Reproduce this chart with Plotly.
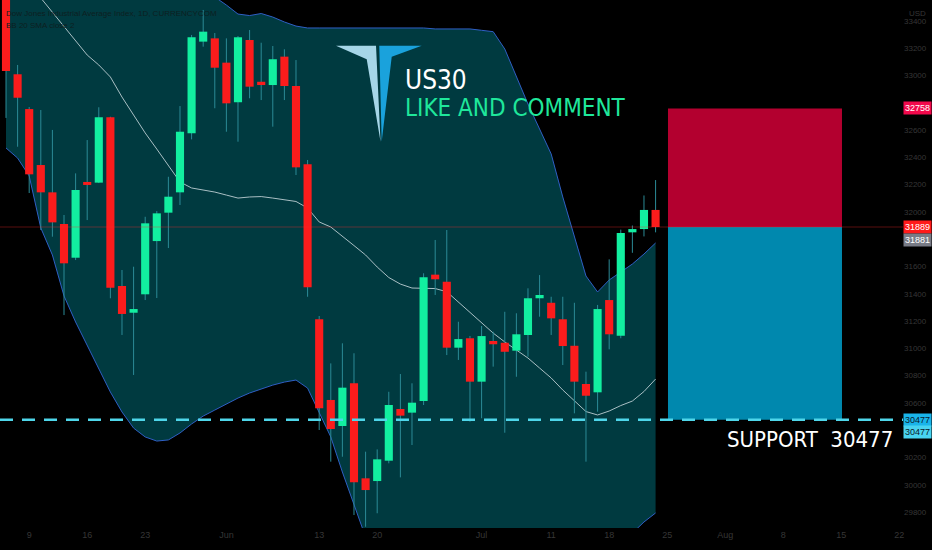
import plotly.graph_objects as go

# ---------------- data ----------------
bar_index = list(range(57))
opens = [34000, 33008, 32753, 32343, 32143, 31911, 31664, 32214, 32214, 32693,
         31457, 31261, 31396, 31786, 31994, 32143, 32575, 33247, 33271, 33093,
         32803, 33259, 32953, 32929, 33137, 32922, 32348, 31213, 30622, 30431,
         30744, 30048, 30028, 30177, 30556, 30529, 30614, 31540, 31488, 31005,
         31074, 30756, 31054, 31041, 30983, 31098, 31367, 31334, 31213, 31019,
         30739, 30678, 31354, 31093, 31850, 31874, 32014]
highs = [34150, 33076, 32768, 32746, 32600, 31977, 32282, 32526, 32766, 32697,
         31574, 31598, 31964, 32006, 32257, 32775, 33296, 33479, 33310, 33271,
         33288, 33332, 33239, 33215, 33191, 33112, 32380, 31237, 30890, 31037,
         30964, 30243, 30260, 30682, 30812, 30744, 31550, 31794, 31867, 31195,
         31091, 31164, 31122, 31268, 31257, 31440, 31537, 31378, 31378, 31334,
         30829, 31318, 31652, 31870, 31900, 32120, 32233]
lows = [32688, 32477, 32138, 31867, 31818, 31244, 31647, 31940, 32211, 31367,
        31098, 30805, 31354, 31369, 31735, 32050, 32531, 33210, 32759, 32587,
        32514, 32832, 32819, 32624, 32819, 32270, 31378, 30402, 30170, 30206,
        29779, 29693, 29792, 30158, 30055, 30292, 30585, 31391, 30951, 30915,
        30463, 30488, 30866, 30382, 30792, 30939, 31232, 31098, 30878, 30524,
        30170, 30536, 30993, 31074, 31700, 31820, 31850]
closes = [33032, 32836, 32275, 32143, 31923, 31623, 32160, 32197, 32693, 31444,
          31252, 31288, 31916, 31989, 32111, 32587, 33279, 33320, 33056, 32795,
          33279, 32917, 32929, 33118, 32922, 32326, 31447, 30561, 30409, 30712,
          30019, 29962, 30187, 30585, 30507, 30602, 31521, 31506, 31005, 31068,
          30756, 31090, 31030, 30975, 31103, 31367, 31391, 31220, 31017, 30756,
          30653, 31288, 31103, 31845, 31874, 32014, 31889]

bb_upper = [35000, 34950, 34900, 34850, 34800, 34750, 34700, 34600, 34500, 34400,
            34300, 34200, 34100, 34000, 33900, 33800, 33699, 33625, 33574, 33515,
            33449, 33438, 33453, 33427, 33391, 33361, 33347, 33347, 33347, 33347,
            33347, 33347, 33347, 33347, 33347, 33347, 33347, 33340, 33340, 33340,
            33340, 33330, 33320, 33193, 32995, 32790, 32607, 32424, 32109, 31816,
            31530, 31413, 31501, 31559, 31618, 31691, 31772]
bb_basis = [33882, 33772, 33662, 33567, 33464, 33354, 33259, 33149, 33076, 32988,
            32841, 32710, 32578, 32460, 32336, 32219, 32175, 32160, 32145, 32123,
            32101, 32109, 32112, 32101, 32090, 32076, 32028, 31926, 31889, 31823,
            31753, 31684, 31596, 31519, 31471, 31442, 31440, 31438, 31415, 31340,
            31259, 31186, 31112, 31047, 30988, 30929, 30856, 30783, 30695, 30614,
            30537, 30512, 30541, 30581, 30614, 30684, 30775]
bb_lower = [32468, 32394, 32263, 31882, 31684, 31384, 31193, 31025, 30856, 30680,
            30534, 30416, 30351, 30321, 30329, 30380, 30446, 30504, 30548, 30592,
            30636, 30673, 30702, 30731, 30753, 30768, 30709, 30526, 30351, 30094,
            29852, 29618, 29449, 29303, 29193, 29120, 29083, 29047, 29047, 29069,
            29083, 29098, 29120, 29156, 29186, 29215, 29244, 29274, 29303, 29362,
            29413, 29464, 29523, 29574, 29647, 29728, 29794]

x_tick_pos = [2, 7, 12, 19, 27, 32, 41, 47, 52, 57, 62, 67, 72, 77]
x_tick_text = ["9", "16", "23", "Jun", "13", "20", "Jul", "11", "18", "25", "Aug", "8", "15", "22"]
y_tick_vals = [29800, 30000, 30200, 30600, 30800, 31000, 31200, 31400, 31600,
               32000, 32200, 32400, 32600, 33000, 33200, 33400]

last_price = 31889
prev_price = 31881
stop_price = 32758
support_price = 30477
box_start, box_end = 57.07, 72.07

# ---------------- styling ----------------
W, H = 932, 550
ML, MR, MT, MB = 0, 29, 0, 22
PW, PH = W - ML - MR, H - MT - MB
X_RANGE = [-0.517, 77.33]
Y_RANGE = [29684, 33552]

GREEN = "#12efa0"
RED = "#fb1c1c"
WICK = "#2b8a96"
TEAL = "#003a40"
BAND = "#2f5fc4"
AXIS_TXT = "#363636"
BASE_FONT = "Liberation Sans, Arial, sans-serif"
NARROW = "DejaVu Sans Condensed, DejaVu Sans, sans-serif"

def px(x):
    return x / PW

def py(y):
    return 1 - y / PH

fig = go.Figure()

# Bollinger band fill
fig.add_trace(go.Scatter(x=bar_index, y=bb_upper, mode="lines",
                         line=dict(color=BAND, width=1), hoverinfo="skip"))
fig.add_trace(go.Scatter(x=bar_index, y=bb_lower, mode="lines", fill="tonexty",
                         fillcolor=TEAL, line=dict(color=BAND, width=1), hoverinfo="skip"))
fig.add_trace(go.Scatter(x=bar_index, y=bb_basis, mode="lines",
                         line=dict(color="#a9bfc4", width=1), hoverinfo="skip"))

# wicks
wx, wy = [], []
for i, h, l in zip(bar_index, highs, lows):
    wx += [i, i, None]
    wy += [l, h, None]
fig.add_trace(go.Scatter(x=wx, y=wy, mode="lines", line=dict(color=WICK, width=1),
                         hoverinfo="skip"))

# bodies (on an overlaid subplot so they sit above the band fill)
base = [min(o, c) for o, c in zip(opens, closes)]
height = [max(abs(c - o), 22) for o, c in zip(opens, closes)]
cols = [GREEN if c >= o else RED for o, c in zip(opens, closes)]
fig.add_trace(go.Bar(x=bar_index, y=height, base=base, width=0.7, xaxis="x2", yaxis="y2",
                     marker=dict(color=cols, line=dict(width=0)), hoverinfo="skip"))

shapes = []
shapes.append(dict(type="rect", xref="x", yref="y", x0=box_start, x1=box_end,
                   y0=last_price, y1=stop_price, fillcolor="#b3002f", line=dict(width=0),
                   layer="above"))
shapes.append(dict(type="rect", xref="x", yref="y", x0=box_start, x1=box_end,
                   y0=support_price, y1=last_price, fillcolor="#0088ae", line=dict(width=0),
                   layer="above"))
shapes.append(dict(type="line", xref="paper", yref="y", x0=0, x1=1, y0=last_price, y1=last_price,
                   line=dict(color="rgba(255,40,40,0.35)", width=1), layer="above"))
shapes.append(dict(type="line", xref="paper", yref="y", x0=0, x1=1, y0=support_price, y1=support_price,
                   line=dict(color="#4fd6ea", width=2.5, dash="13px,9px"), layer="above"))

def path(pts):
    return "M " + " L ".join(f"{px(a):.4f},{py(b):.4f}" for a, b in pts) + " Z"

shapes.append(dict(type="path", xref="paper", yref="paper",
                   path=path([(336, 45.7), (376, 45.7), (380.5, 141.7), (366.7, 59.3)]),
                   fillcolor="#a6d6e8", line=dict(width=0), layer="above"))
shapes.append(dict(type="path", xref="paper", yref="paper",
                   path=path([(379.3, 45.7), (421.7, 45.7), (391.7, 56.7), (381.7, 141.7)]),
                   fillcolor="#1aa2dc", line=dict(width=0), layer="above"))

ann = []
ann.append(dict(xref="paper", yref="paper", x=px(403), y=py(80), xanchor="left", yanchor="middle",
                text="US30", showarrow=False, font=dict(family=NARROW, size=26, color="#ffffff")))
ann.append(dict(xref="paper", yref="paper", x=px(403), y=py(108), xanchor="left", yanchor="middle",
                text="LIKE AND COMMENT", showarrow=False, font=dict(family=NARROW, size=24, color="#1fe79b")))
ann.append(dict(xref="paper", yref="paper", x=px(895), y=py(439), xanchor="right", yanchor="middle",
                text="SUPPORT&nbsp;&nbsp;30477", showarrow=False, font=dict(family=NARROW, size=22, color="#ffffff")))
ann.append(dict(xref="paper", yref="paper", x=px(4), y=py(13), xanchor="left", yanchor="middle",
                text="Dow Jones Industrial Average Index, 1D, CURRENCYCOM", showarrow=False,
                font=dict(family=BASE_FONT, size=8, color="#0d1f21")))
ann.append(dict(xref="paper", yref="paper", x=px(4), y=py(26), xanchor="left", yanchor="middle",
                text="BB 20 SMA close 2", showarrow=False,
                font=dict(family=BASE_FONT, size=8, color="#0d1f21")))
ann.append(dict(xref="paper", yref="paper", x=px(917), y=py(13), xanchor="center", yanchor="middle",
                text="USD", showarrow=False, font=dict(family=BASE_FONT, size=8, color=AXIS_TXT)))

def price_tag(val, bg, fg, yshift=0):
    return dict(xref="paper", yref="y", x=1.0, y=val, xanchor="left", yanchor="middle",
                text=str(val), showarrow=False, bgcolor=bg, width=27, height=12, borderpad=0,
                yshift=yshift, font=dict(family=BASE_FONT, size=9, color=fg))

ann.append(price_tag(stop_price, "#f2094c", "#ffffff"))
ann.append(price_tag(last_price, "#ff1a1a", "#ffffff"))
ann.append(price_tag(prev_price, "#787b86", "#ffffff", yshift=-12))
ann.append(price_tag(support_price, "#19b4ea", "#0a1a2a"))
ann.append(price_tag(support_price, "#48d3f0", "#0a1a2a", yshift=-12))

fig.update_layout(
    width=W, height=H, margin=dict(l=ML, r=MR, t=MT, b=MB),
    paper_bgcolor="#000000", plot_bgcolor="#000000",
    showlegend=False, shapes=shapes, annotations=ann,
    xaxis=dict(range=X_RANGE, tickvals=x_tick_pos, ticktext=x_tick_text,
               showgrid=False, zeroline=False, showline=False, ticks="", ticklen=0,
               tickfont=dict(family=BASE_FONT, size=9, color=AXIS_TXT), fixedrange=True),
    yaxis=dict(range=Y_RANGE, side="right", tickvals=y_tick_vals,
               ticktext=[str(v) for v in y_tick_vals],
               showgrid=False, zeroline=False, showline=False, ticks="", ticklen=0,
               tickfont=dict(family=BASE_FONT, size=8, color=AXIS_TXT), fixedrange=True),
    xaxis2=dict(range=X_RANGE, overlaying="x", visible=False, fixedrange=True),
    yaxis2=dict(range=Y_RANGE, overlaying="y", visible=False, fixedrange=True),
)

fig.write_html("out.html", config={"displayModeBar": False, "staticPlot": True},
               post_script="document.body.style.margin='0';document.body.style.overflow='hidden';")
